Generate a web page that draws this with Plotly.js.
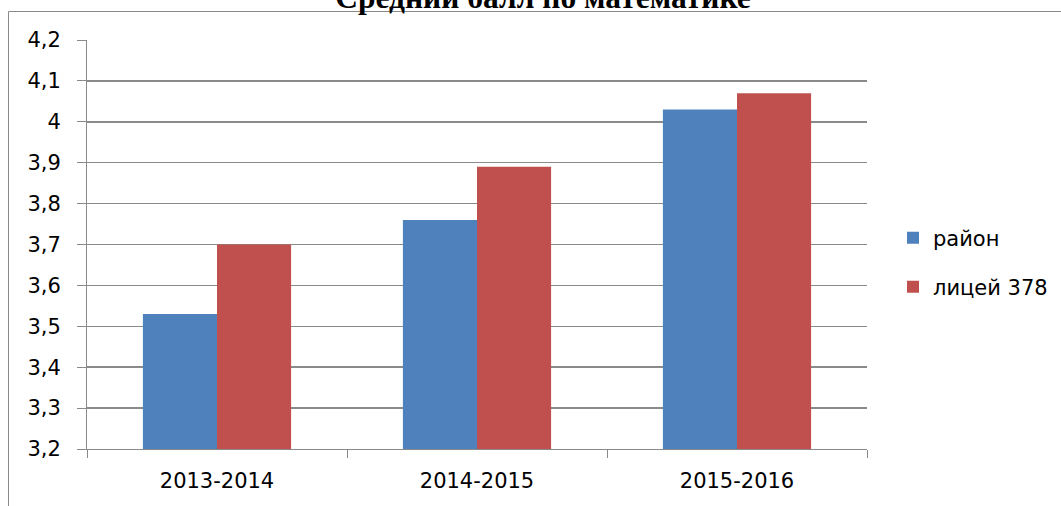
<!DOCTYPE html>
<html>
<head>
<meta charset="utf-8">
<script src="https://cdn.plot.ly/plotly-3.0.1.min.js"></script>
<style>html,body{margin:0;padding:0;background:#fff;}#chart{width:1061px;height:506px;}</style>
</head>
<body>
<div id="chart"></div>
<script>
var categories = ["2013-2014", "2014-2015", "2015-2016"];
var seriesNames = ["район", "лицей 378"];
var rayon = [3.53, 3.76, 4.03];
var litsey = [3.70, 3.89, 4.07];
var yTicks = [3.2, 3.3, 3.4, 3.5, 3.6, 3.7, 3.8, 3.9, 4.0, 4.1, 4.2];
var titleText = "Средний балл по математике";

var W = 1061, H = 506;
var M = {l: 87, r: 194, t: 40, b: 57};
var pw = W - M.l - M.r, ph = H - M.t - M.b;
function px2x(p){ return (p - M.l) / pw; }
function px2y(p){ return 1 - (p - M.t) / ph; }

var font = "DejaVu Sans, sans-serif";
var gray = "#8a8a8a";
var fs = 21;

var traces = [
  {type: "bar", name: seriesNames[0], x: categories, y: rayon,
   marker: {color: "#4F81BD", line: {width: 0}}, legend: "legend", hoverinfo: "none"},
  {type: "bar", name: seriesNames[1], x: categories, y: litsey,
   marker: {color: "#C0504D", line: {width: 0}}, legend: "legend2", hoverinfo: "none"}
];

var layout = {
  width: W, height: H,
  margin: M,
  paper_bgcolor: "#fff", plot_bgcolor: "#fff",
  separators: ",.",
  barmode: "group", bargap: 0.43, bargroupgap: 0,
  font: {family: font, size: fs, color: "#000"},
  title: {text: "<b>" + titleText + "</b>", font: {family: "Liberation Serif, serif", size: 31.5, color: "#000"},
          x: 543 / W, xanchor: "center", xref: "container", y: 1 - 7.5 / H, yref: "container", yanchor: "bottom"},
  xaxis: {type: "category", showgrid: false, showline: true, linecolor: gray, linewidth: 1,
          ticks: "outside", tickson: "boundaries", ticklen: 8, tickcolor: gray,
          ticklabelstandoff: 13, tickfont: {family: font, size: fs, color: "#000"}, zeroline: false},
  yaxis: {range: [3.2, 4.2], tickvals: yTicks, showgrid: true, gridcolor: gray, gridwidth: 1.5,
          showline: true, linecolor: gray, ticks: "outside", ticklen: 9, tickcolor: gray,
          ticklabelstandoff: 12, tickfont: {family: font, size: fs, color: "#000"}, zeroline: false},
  showlegend: true,
  legend: {xref: "container", yref: "container", x: 893 / W, y: 1 - 238 / H, xanchor: "left", yanchor: "middle",
           bgcolor: "rgba(0,0,0,0)", font: {family: font, size: fs}, itemwidth: 30},
  legend2: {xref: "container", yref: "container", x: 893 / W, y: 1 - 287 / H, xanchor: "left", yanchor: "middle",
           bgcolor: "rgba(0,0,0,0)", font: {family: font, size: fs}, itemwidth: 30},
  shapes: [
    {type: "line", xref: "paper", yref: "paper", x0: px2x(8.5), x1: px2x(8.5), y0: px2y(11.5), y1: px2y(520),
     line: {color: gray, width: 1}},
    {type: "line", xref: "paper", yref: "paper", x0: px2x(8.5), x1: px2x(1070), y0: px2y(11.5), y1: px2y(11.5),
     line: {color: gray, width: 1}}
  ]
};

Plotly.newPlot("chart", traces, layout, {staticPlot: true, displayModeBar: false});
</script>
</body>
</html>
